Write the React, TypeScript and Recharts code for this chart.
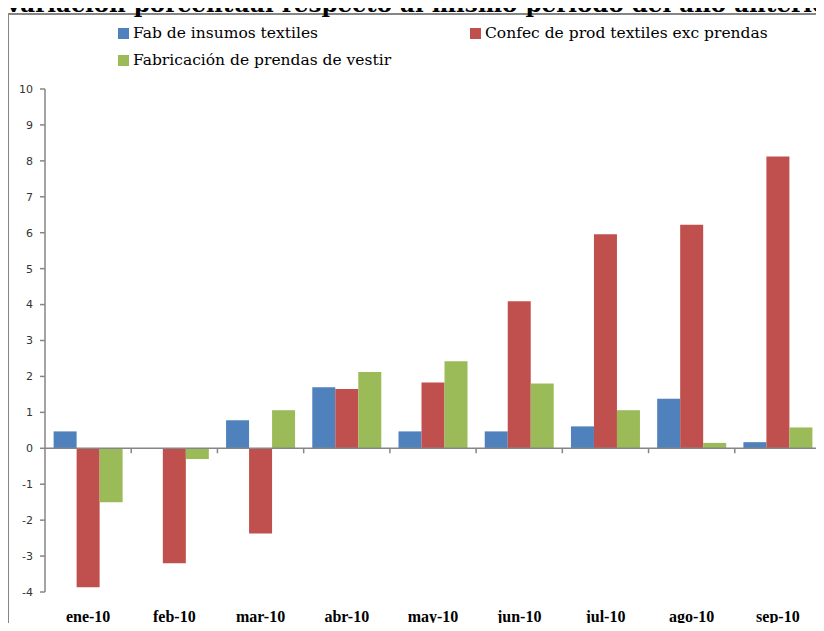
import React from 'react';
import { BarChart, Bar, XAxis, YAxis, ReferenceLine } from 'recharts';

const categories = ['ene-10', 'feb-10', 'mar-10', 'abr-10', 'may-10', 'jun-10', 'jul-10', 'ago-10', 'sep-10'];
const insumosTextiles = [0.47, 0, 0.78, 1.7, 0.47, 0.47, 0.61, 1.38, 0.17];
const confecProd = [-3.87, -3.2, -2.37, 1.65, 1.83, 4.09, 5.96, 6.22, 8.12];
const prendasVestir = [-1.5, -0.3, 1.06, 2.12, 2.42, 1.8, 1.06, 0.15, 0.58];
const yTicks = [-4, -3, -2, -1, 0, 1, 2, 3, 4, 5, 6, 7, 8, 9, 10];

const seriesNames = ['Fab de insumos textiles', 'Confec de prod textiles exc prendas', 'Fabricación de prendas de vestir'];
const seriesColors = ['#4F81BD', '#C0504D', '#9BBB59'];

const data = categories.map((c, i) => ({
  cat: c,
  a: insumosTextiles[i],
  b: confecProd[i],
  c: prendasVestir[i],
}));

const W = 824;
const H = 631;
const M = { top: 89, right: 3, bottom: 0, left: 0 };
const X_AXIS_H = 39;
const Y_AXIS_W = 45;
const Y_MIN = -4;
const Y_MAX = 10;
const PLOT_H = H - M.top - M.bottom - X_AXIS_H;
const zeroY = M.top + (PLOT_H * (Y_MAX - 0)) / (Y_MAX - Y_MIN);
const AXIS_COLOR = '#868686';
const SERIF = '"DejaVu Serif", serif';
const SERIF2 = '"Liberation Serif", "Times New Roman", serif';

const XTick = (props: any) => {
  const { x, y, payload } = props;
  const half = payload && payload.offset ? payload.offset : 0;
  const bx = x - half;
  return (
    <g>
      {payload.index > 0 && (
        <line x1={bx} x2={bx} y1={zeroY} y2={zeroY + 5} stroke={AXIS_COLOR} strokeWidth={1.5} />
      )}
      <text x={x} y={y + 22} textAnchor="middle" fontFamily={SERIF2} fontWeight="bold" fontSize={16} fill="#000">
        {payload.value}
      </text>
    </g>
  );
};

const LegendItem = ({ i, left, top }: { i: number; left: number; top: number }) => (
  <div style={{ position: 'absolute', left, top, display: 'flex', alignItems: 'center', whiteSpace: 'nowrap' }}>
    <span style={{ display: 'inline-block', width: 11, height: 11, background: seriesColors[i], marginRight: 4 }} />
    <span style={{ fontFamily: SERIF, fontSize: 15.5, color: '#000', lineHeight: '20px' }}>{seriesNames[i]}</span>
  </div>
);

export default function App() {
  return (
    <div style={{ position: 'relative', width: W, height: H, margin: -8, overflow: 'hidden', background: '#fff' }}>
      <div
        style={{
          position: 'absolute',
          left: 7,
          top: 13,
          width: W + 20,
          height: H + 20,
          border: `2px solid ${AXIS_COLOR}`,
          boxSizing: 'border-box',
        }}
      />
      <div
        style={{
          position: 'absolute',
          left: -40,
          width: 924,
          top: -11,
          textAlign: 'center',
          whiteSpace: 'nowrap',
          fontFamily: SERIF,
          fontWeight: 'bold',
          fontSize: 23,
          lineHeight: '30px',
          color: '#000',
        }}
      >
        Variación porcentual respecto al mismo período del año anterior
      </div>
      <LegendItem i={0} left={118} top={23} />
      <LegendItem i={1} left={470} top={23} />
      <LegendItem i={2} left={118} top={50} />
      <div style={{ position: 'absolute', left: 0, top: 0 }}>
        <BarChart width={W} height={H} data={data} margin={M} barCategoryGap="10%" barGap={0}>
          <XAxis dataKey="cat" axisLine={false} tickLine={false} height={X_AXIS_H} interval={0} tick={<XTick />} />
          <YAxis
            width={Y_AXIS_W}
            domain={[Y_MIN, Y_MAX]}
            ticks={yTicks}
            interval={0}
            axisLine={{ stroke: AXIS_COLOR, strokeWidth: 1.5 }}
            tickLine={{ stroke: AXIS_COLOR, strokeWidth: 1.5 }}
            tickSize={5}
            tickMargin={7}
            tick={{ fontFamily: '"DejaVu Sans", Verdana, sans-serif', fontSize: 11, fill: '#333' }}
          />
          <ReferenceLine y={0} stroke={AXIS_COLOR} strokeWidth={1.5} />
          <Bar dataKey="a" name={seriesNames[0]} fill={seriesColors[0]} isAnimationActive={false} />
          <Bar dataKey="b" name={seriesNames[1]} fill={seriesColors[1]} isAnimationActive={false} />
          <Bar dataKey="c" name={seriesNames[2]} fill={seriesColors[2]} isAnimationActive={false} />
        </BarChart>
      </div>
    </div>
  );
}
